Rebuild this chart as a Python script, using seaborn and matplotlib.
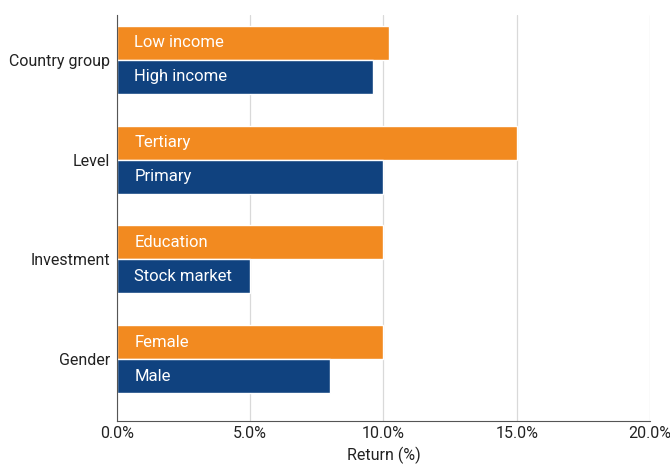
import matplotlib
matplotlib.use("Agg")
import matplotlib.pyplot as plt
import pandas as pd
import seaborn as sns
from matplotlib.ticker import PercentFormatter

# data
categories = ["Country group", "Level", "Investment", "Gender"]
top_labels = ["Low income", "Tertiary", "Education", "Female"]
top_values = [10.2, 15.0, 10.0, 10.0]
bottom_labels = ["High income", "Primary", "Stock market", "Male"]
bottom_values = [9.6, 10.0, 5.0, 8.0]

ORANGE = "#F28A20"
BLUE = "#10427F"

df = pd.DataFrame({
    "category": categories * 2,
    "series": ["top"] * len(categories) + ["bottom"] * len(categories),
    "label": top_labels + bottom_labels,
    "value": top_values + bottom_values,
})

sns.set_style("white")
plt.rcParams["font.family"] = ["Roboto", "DejaVu Sans"]

fig = plt.figure(figsize=(6.7, 4.66), dpi=100)
ax = fig.add_axes([0.1746, 0.0966, 0.7955, 0.8714])

sns.barplot(
    data=df, y="category", x="value", hue="series",
    order=categories, hue_order=["top", "bottom"],
    palette={"top": ORANGE, "bottom": BLUE},
    width=0.68, gap=0, saturation=1, legend=False, ax=ax,
)

# labels inside the bars
for container, series in zip(ax.containers, ["top", "bottom"]):
    labels = df.loc[df["series"] == series, "label"].tolist()
    for bar, text in zip(container, labels):
        ax.text(0.65, bar.get_y() + bar.get_height() / 2, text,
                color="white", fontsize=12, va="center", ha="left")

ax.set_xlim(0, 20)
ax.set_ylim(3.62, -0.45)
ax.set_xticks([0, 5, 10, 15, 20])
ax.xaxis.set_major_formatter(PercentFormatter(decimals=1))
ax.set_xlabel("Return (%)", fontsize=11.5, color="#222222")
ax.set_ylabel("")
ax.tick_params(axis="both", length=0, labelsize=11.5, colors="#222222")
ax.tick_params(axis="y", pad=5)

ax.grid(axis="x", color="#d9d9d9", linewidth=0.9)
ax.set_axisbelow(True)
for side in ["top", "right"]:
    ax.spines[side].set_visible(False)
ax.spines["left"].set_color("#555555")
ax.spines["bottom"].set_color("#555555")

fig.savefig("out.png", dpi=100)
